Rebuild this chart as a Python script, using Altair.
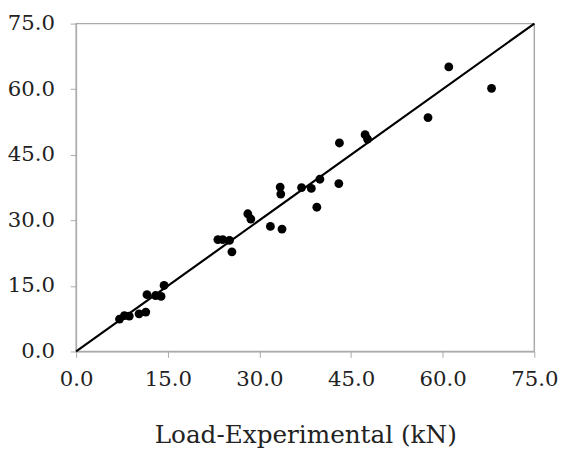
import altair as alt
import pandas as pd

exp_load = [7.1, 7.9, 8.7, 10.3, 11.4, 11.6, 13.0, 13.9, 14.4,
            23.2, 24.0, 25.1, 25.5, 28.1, 28.6, 31.8, 33.7, 33.4, 33.5,
            36.9, 38.5, 39.9, 39.4, 43.0, 43.1, 47.3, 47.7, 57.6, 61.0, 68.0]
pred_load = [7.4, 8.2, 8.1, 8.6, 9.0, 13.0, 12.8, 12.6, 15.1,
             25.6, 25.6, 25.4, 22.8, 31.5, 30.3, 28.6, 28.0, 37.6, 36.0,
             37.5, 37.3, 39.4, 33.0, 38.4, 47.7, 49.6, 48.6, 53.5, 65.1, 60.2]
line_x = [0.0, 75.0]
line_y = [0.0, 75.0]
ticks = [0, 15, 30, 45, 60, 75]

df = pd.DataFrame({"x": exp_load, "y": pred_load})
ldf = pd.DataFrame({"x": line_x, "y": line_y})

font = "DejaVu Serif"
xs = alt.Scale(domain=[0, 75], nice=False, zero=False)
ys = alt.Scale(domain=[0, 75], nice=False, zero=False)

xaxis = alt.Axis(values=ticks, format=".1f", title="Load-Experimental (kN)",
                 grid=False, tickSize=6, tickColor="#aaaaaa", domainColor="#aaaaaa",
                 labelPadding=11, titlePadding=34, labelFlush=False, labelOverlap=False)
yaxis = alt.Axis(values=ticks, format=".1f", title=None,
                 grid=False, tickSize=6, tickColor="#aaaaaa", domainColor="#aaaaaa",
                 labelPadding=16, labelFlush=False, labelOverlap=False)

line = alt.Chart(ldf).mark_line(color="black", strokeWidth=2.2).encode(
    x=alt.X("x:Q", scale=xs, axis=xaxis),
    y=alt.Y("y:Q", scale=ys, axis=yaxis),
)
pts = alt.Chart(df).mark_circle(color="black", opacity=1, size=80).encode(
    x=alt.X("x:Q", scale=xs),
    y=alt.Y("y:Q", scale=ys),
)

chart = alt.layer(line, pts).properties(
    width=464, height=332,
    autosize=alt.AutoSizeParams(type="none"),
    padding={"left": 69, "top": 13, "right": 25, "bottom": 100},
).configure(
    background="white", font=font
).configure_view(
    stroke="#aaaaaa", strokeWidth=1.5
).configure_axis(
    labelFont=font, labelFontSize=21.5, labelColor="#222222",
    titleFont=font, titleFontSize=25, titleFontWeight="normal", titleColor="#222222",
)

chart.save("out.html", embed_options={"renderer": "svg", "actions": False})
